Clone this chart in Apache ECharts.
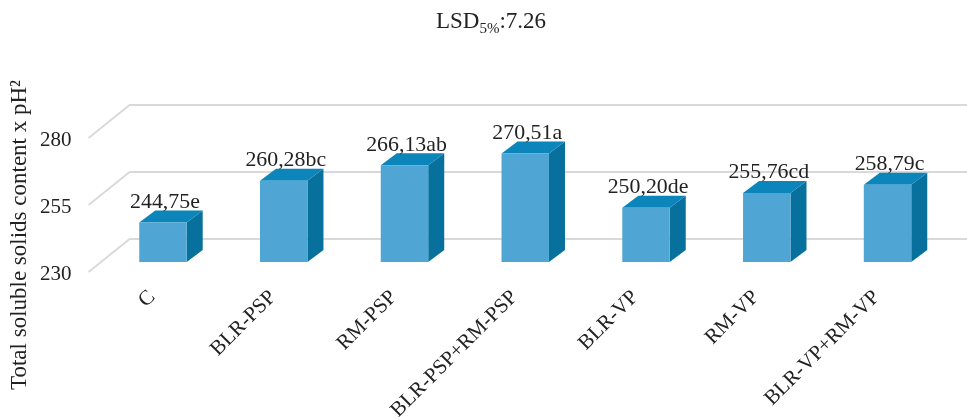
<!DOCTYPE html>
<html><head><meta charset="utf-8">
<script src="https://cdn.jsdelivr.net/npm/echarts@6/dist/echarts.min.js"></script>
<style>html,body{margin:0;padding:0;background:#fff}#c{width:967px;height:420px}</style>
</head><body><div id="c"></div>
<script>
const categories = ['C', 'BLR-PSP', 'RM-PSP', 'BLR-PSP+RM-PSP', 'BLR-VP', 'RM-VP', 'BLR-VP+RM-VP'];
const values = [244.75, 260.28, 266.13, 270.51, 250.20, 255.76, 258.79];
const valueLabels = ['244,75e', '260,28bc', '266,13ab', '270,51a', '250,20de', '255,76cd', '258,79c'];
const yTicks = [230, 255, 280];
const yMin = 230, yMax = 280;
const titleParts = ['LSD', '5%', ':7.26'];

const FONT = '"Liberation Serif", "Times New Roman", serif';
const FRONT = '#4fa6d4', TOP = '#0b85ba', SIDE = '#07709c';
const DX = 16, DY = -12;          // bar depth offset
const WALL_DX = 41, WALL_DY = -33; // side wall depth

// measure title pieces
const mctx = document.createElement('canvas').getContext('2d');
const mainFont = '23px ' + FONT, subFont = '15px ' + FONT;
mctx.font = mainFont; const w0 = mctx.measureText(titleParts[0]).width;
mctx.font = subFont; const w1 = mctx.measureText(titleParts[1]).width;
const tx = 436;

const chart = echarts.init(document.getElementById('c'), null, {renderer: 'canvas'});

const option = {
  animation: false,
  backgroundColor: '#fff',
  grid: {left: 102.6, right: 19.1, top: 128, bottom: 158},
  xAxis: {type: 'category', data: categories, show: false},
  yAxis: {type: 'value', min: yMin, max: yMax, show: false},
  graphic: [
    {type: 'text', x: tx, y: 22, style: {text: titleParts[0], font: mainFont, fill: '#222', align: 'left', verticalAlign: 'middle'}},
    {type: 'text', x: tx + w0, y: 29.5, style: {text: titleParts[1], font: subFont, fill: '#222', align: 'left', verticalAlign: 'middle'}},
    {type: 'text', x: tx + w0 + w1, y: 22, style: {text: titleParts[2], font: mainFont, fill: '#222', align: 'left', verticalAlign: 'middle'}},
    {
      type: 'text', x: 20, y: 235, rotation: Math.PI / 2,
      style: {text: 'Total soluble solids content x pH²', font: '23px ' + FONT, fill: '#222',
              align: 'center', verticalAlign: 'middle'}
    }
  ],
  series: [
    {
      type: 'custom', clip: false, z: 1,
      data: yTicks.map(v => [0, v]),
      renderItem: function (params, api) {
        const cs = params.coordSys;
        const p = api.coord([0, api.value(1)]);
        const y = p[1];
        const fx = cs.x - 14, fy = y + 10;
        const bx = fx + WALL_DX, by = fy + WALL_DY;
        return {
          type: 'group',
          children: [
            {type: 'polyline', shape: {points: [[fx, fy], [bx, by], [api.getWidth(), by]]},
             style: {stroke: '#d9d9d9', lineWidth: 1.8, fill: null}},
            {type: 'text', style: {text: String(api.value(1)), x: fx - 17, y: fy + 2,
             align: 'right', verticalAlign: 'middle', font: '21px ' + FONT, fill: '#222'}}
          ]
        };
      }
    },
    {
      type: 'custom', clip: false, z: 2,
      data: values.map((v, i) => [i, v]),
      renderItem: function (params, api) {
        const i = api.value(0);
        const top = api.coord([i, api.value(1)]);
        const bot = api.coord([i, yMin]);
        const w = api.size([1, 0])[0] * 0.393;
        const l = top[0] - w / 2, r = top[0] + w / 2, t = top[1], b = bot[1];
        return {
          type: 'group',
          children: [
            {type: 'polygon', shape: {points: [[r, t], [r + DX, t + DY], [r + DX, b + DY], [r, b]]},
             style: {fill: SIDE}},
            {type: 'polygon', shape: {points: [[l, t], [l + DX, t + DY], [r + DX, t + DY], [r, t]]},
             style: {fill: TOP}},
            {type: 'rect', shape: {x: l, y: t, width: w, height: b - t}, style: {fill: FRONT}},
            {type: 'text', x: top[0] + 2, y: t + DY - 8, scaleX: 1.04,
             style: {text: valueLabels[i], x: 0, y: 0,
             align: 'center', verticalAlign: 'middle', font: '21px ' + FONT, fill: '#222'}},
            {type: 'text', x: top[0] - 11, y: b + 32, rotation: Math.PI / 4,
             style: {text: categories[i], x: 0, y: 0, align: 'right', verticalAlign: 'middle',
             font: '21px ' + FONT, fill: '#222'}}
          ]
        };
      }
    }
  ]
};
chart.setOption(option);
</script>
</body></html>
